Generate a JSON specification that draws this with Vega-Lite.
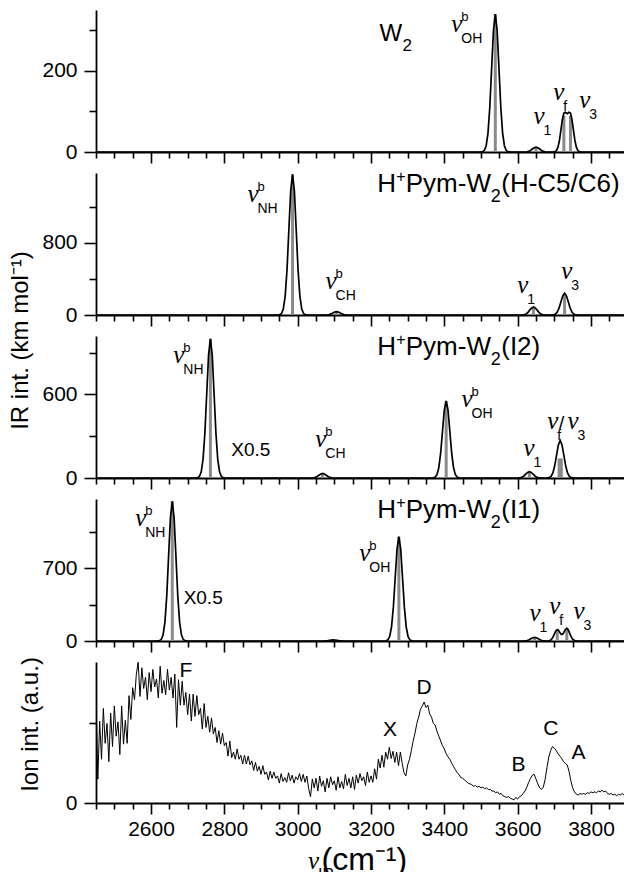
{
"$schema": "https://vega.github.io/schema/vega-lite/v6.json",
"autosize": {"type": "pad"},
"padding": {"left": 8, "top": 10, "right": 0, "bottom": 0},
"background": "white",
"config": {
 "view": {"stroke": null},
 "font": "Liberation Sans",
 "axis": {"grid": false, "domainColor": "black", "domainWidth": 1.8, "tickColor": "black", "tickWidth": 1.6, "labelColor": "black", "labelFont": "Liberation Sans", "labelFontSize": 21, "labelPadding": 4, "titleColor": "black", "titleFont": "Liberation Sans", "titleFontSize": 24, "titleFontWeight": "normal"},
 "style": {
  "nu": {"font": "Liberation Serif", "fontStyle": "italic", "fontSize": 25, "align": "left", "baseline": "alphabetic", "fill": "black"},
  "sub": {"font": "Liberation Sans", "fontSize": 14, "align": "left", "baseline": "alphabetic", "dx": 10, "dy": 11, "fill": "black"},
  "sup": {"font": "Liberation Sans", "fontSize": 13, "align": "left", "baseline": "alphabetic", "dx": 10, "dy": -11, "fill": "black"},
  "lab": {"font": "Liberation Sans", "fontSize": 21, "align": "left", "baseline": "alphabetic", "fill": "black"},
  "xf": {"font": "Liberation Sans", "fontSize": 19, "align": "left", "baseline": "alphabetic", "fill": "black"},
  "ttl": {"font": "Liberation Sans", "fontSize": 26, "align": "left", "baseline": "alphabetic", "fill": "black", "clip": true},
  "ttls": {"font": "Liberation Sans", "fontSize": 18, "align": "left", "baseline": "alphabetic", "fill": "black", "clip": true}
 }
},
"datasets": {
 "c1": [{"w":2450,"i":0},{"w":3497,"i":0},{"w":3504,"i":0.75},{"w":3509,"i":3.8},{"w":3514,"i":14.9},{"w":3519,"i":46},{"w":3524,"i":110.4},{"w":3529,"i":206.2},{"w":3534,"i":300.1},{"w":3539,"i":340},{"w":3544,"i":300.1},{"w":3549,"i":206.2},{"w":3554,"i":110.4},{"w":3559,"i":46},{"w":3564,"i":14.9},{"w":3569,"i":3.8},{"w":3574,"i":0.75},{"w":3581,"i":0},{"w":3618,"i":0},{"w":3625,"i":0.5},{"w":3630,"i":1.6},{"w":3635,"i":3.9},{"w":3640,"i":7.3},{"w":3645,"i":10.6},{"w":3650,"i":12},{"w":3655,"i":10.6},{"w":3660,"i":7.3},{"w":3665,"i":3.9},{"w":3670,"i":1.6},{"w":3675,"i":0.5},{"w":3682,"i":0},{"w":3692,"i":0},{"w":3698,"i":0.2},{"w":3702,"i":1},{"w":3706,"i":3.9},{"w":3710,"i":12},{"w":3714,"i":29},{"w":3718,"i":54.4},{"w":3722,"i":80.6},{"w":3726,"i":96.1},{"w":3730,"i":97.8},{"w":3735,"i":94.5},{"w":3740,"i":97.8},{"w":3744,"i":96.1},{"w":3748,"i":80.6},{"w":3752,"i":54.4},{"w":3756,"i":29},{"w":3760,"i":12},{"w":3764,"i":3.9},{"w":3768,"i":1},{"w":3772,"i":0.2},{"w":3778,"i":0},{"w":3890,"i":0}],
 "s1": [{"w":3539,"i":340},{"w":3650,"i":12},{"w":3726,"i":89},{"w":3744,"i":89}],
 "n1": [{"w":3419,"i":296,"sub":"OH","sup":"b"},{"w":3643,"i":68,"sub":"1","sup":""},{"w":3697,"i":129,"sub":"f","sup":""},{"w":3768,"i":109,"sub":"3","sup":""}],
 "t1": [{"w":3223,"i":274}],
 "c2": [{"w":2450,"i":0},{"w":2944,"i":0},{"w":2951,"i":3.4},{"w":2956,"i":17.3},{"w":2961,"i":68.5},{"w":2966,"i":211},{"w":2971,"i":506.5},{"w":2976,"i":946},{"w":2981,"i":1377},{"w":2986,"i":1560},{"w":2991,"i":1377},{"w":2996,"i":946},{"w":3001,"i":506.5},{"w":3006,"i":211},{"w":3011,"i":68.5},{"w":3016,"i":17.3},{"w":3021,"i":3.4},{"w":3028,"i":0},{"w":3074,"i":0},{"w":3081,"i":1.7},{"w":3086,"i":5.1},{"w":3091,"i":12.3},{"w":3096,"i":23},{"w":3101,"i":33.5},{"w":3106,"i":38},{"w":3111,"i":33.5},{"w":3116,"i":23},{"w":3121,"i":12.3},{"w":3126,"i":5.1},{"w":3131,"i":1.7},{"w":3138,"i":0},{"w":3606,"i":0},{"w":3613,"i":1},{"w":3618,"i":3.9},{"w":3623,"i":12},{"w":3628,"i":28.9},{"w":3633,"i":54},{"w":3638,"i":78.5},{"w":3643,"i":89},{"w":3648,"i":78.5},{"w":3653,"i":54},{"w":3658,"i":28.9},{"w":3663,"i":12},{"w":3668,"i":3.9},{"w":3673,"i":1},{"w":3680,"i":0},{"w":3686,"i":0},{"w":3693,"i":0.5},{"w":3698,"i":2.7},{"w":3703,"i":10.6},{"w":3708,"i":32.6},{"w":3713,"i":78.3},{"w":3718,"i":146.2},{"w":3723,"i":212.7},{"w":3728,"i":241},{"w":3733,"i":212.7},{"w":3738,"i":146.2},{"w":3743,"i":78.3},{"w":3748,"i":32.6},{"w":3753,"i":10.6},{"w":3758,"i":2.7},{"w":3763,"i":0.5},{"w":3770,"i":0},{"w":3890,"i":0}],
 "s2": [{"w":2986,"i":1560},{"w":3106,"i":38},{"w":3643,"i":89},{"w":3728,"i":241}],
 "n2": [{"w":2863,"i":1252,"sub":"NH","sup":"b"},{"w":3076,"i":286,"sub":"CH","sup":"b"},{"w":3599,"i":249,"sub":"1","sup":""},{"w":3719,"i":397,"sub":"3","sup":""}],
 "t2": [{"w":3217,"i":1364,"t":"(H-C5/C6)"}],
 "c3": [{"w":2450,"i":0},{"w":2720,"i":0},{"w":2727,"i":2.2},{"w":2732,"i":11.1},{"w":2737,"i":43.9},{"w":2742,"i":135.3},{"w":2747,"i":324.7},{"w":2752,"i":606.5},{"w":2757,"i":882.5},{"w":2762,"i":1000},{"w":2767,"i":882.5},{"w":2772,"i":606.5},{"w":2777,"i":324.7},{"w":2782,"i":135.3},{"w":2787,"i":43.9},{"w":2792,"i":11.1},{"w":2797,"i":2.2},{"w":2804,"i":0},{"w":3036,"i":0},{"w":3043,"i":1.4},{"w":3048,"i":4.5},{"w":3053,"i":10.7},{"w":3058,"i":20},{"w":3063,"i":29.1},{"w":3068,"i":33},{"w":3073,"i":29.1},{"w":3078,"i":20},{"w":3083,"i":10.7},{"w":3088,"i":4.5},{"w":3093,"i":1.4},{"w":3100,"i":0},{"w":3363,"i":0},{"w":3370,"i":1.2},{"w":3375,"i":6.1},{"w":3380,"i":24.3},{"w":3385,"i":75},{"w":3390,"i":179.9},{"w":3395,"i":336},{"w":3400,"i":488.9},{"w":3405,"i":554},{"w":3410,"i":488.9},{"w":3415,"i":336},{"w":3420,"i":179.9},{"w":3425,"i":75},{"w":3430,"i":24.3},{"w":3435,"i":6.1},{"w":3440,"i":1.2},{"w":3447,"i":0},{"w":3595,"i":0},{"w":3602,"i":0.5},{"w":3607,"i":2},{"w":3612,"i":6.1},{"w":3617,"i":14.6},{"w":3622,"i":27.3},{"w":3627,"i":39.7},{"w":3632,"i":45},{"w":3637,"i":39.7},{"w":3642,"i":27.3},{"w":3647,"i":14.6},{"w":3652,"i":6.1},{"w":3657,"i":2},{"w":3662,"i":0.5},{"w":3669,"i":0},{"w":3674,"i":0},{"w":3681,"i":0.6},{"w":3686,"i":3},{"w":3691,"i":11.8},{"w":3696,"i":36.4},{"w":3701,"i":87.3},{"w":3706,"i":163.1},{"w":3711,"i":237.4},{"w":3716,"i":269},{"w":3721,"i":237.4},{"w":3726,"i":163.1},{"w":3731,"i":87.3},{"w":3736,"i":36.4},{"w":3741,"i":11.8},{"w":3746,"i":3},{"w":3751,"i":0.6},{"w":3758,"i":0},{"w":3890,"i":0}],
 "s3": [{"w":2762,"i":1000},{"w":3068,"i":33},{"w":3405,"i":554},{"w":3632,"i":45},{"w":3713,"i":140},{"w":3719,"i":140}],
 "n3": [{"w":2661,"i":829,"sub":"NH","sup":"b"},{"w":3048,"i":221,"sub":"CH","sup":"b"},{"w":3447,"i":507,"sub":"OH","sup":"b"},{"w":3616,"i":161,"sub":"1","sup":""},{"w":3681,"i":352,"sub":"f","sup":""},{"w":3736,"i":352,"sub":"3","sup":""}],
 "l3": [{"w":2819,"i":161,"t":"X0.5"},{"w":3713,"i":352,"t":"/"}],
 "t3": [{"w":3217,"i":881,"t":"(I2)"}],
 "c4": [{"w":2450,"i":0},{"w":2616,"i":0},{"w":2623,"i":3},{"w":2628,"i":15},{"w":2633,"i":59.2},{"w":2638,"i":182.4},{"w":2643,"i":437.7},{"w":2648,"i":817.6},{"w":2653,"i":1189.6},{"w":2658,"i":1348},{"w":2663,"i":1189.6},{"w":2668,"i":817.6},{"w":2673,"i":437.7},{"w":2678,"i":182.4},{"w":2683,"i":59.2},{"w":2688,"i":15},{"w":2693,"i":3},{"w":2700,"i":0},{"w":3065,"i":0},{"w":3072,"i":0.4},{"w":3077,"i":1.4},{"w":3082,"i":3.2},{"w":3087,"i":6.1},{"w":3092,"i":8.8},{"w":3097,"i":10},{"w":3102,"i":8.8},{"w":3107,"i":6.1},{"w":3112,"i":3.2},{"w":3117,"i":1.4},{"w":3122,"i":0.4},{"w":3129,"i":0},{"w":3234,"i":0},{"w":3241,"i":2.2},{"w":3246,"i":11.2},{"w":3251,"i":44.2},{"w":3256,"i":136.1},{"w":3261,"i":326.7},{"w":3266,"i":610.1},{"w":3271,"i":887.8},{"w":3276,"i":1006},{"w":3281,"i":887.8},{"w":3286,"i":610.1},{"w":3291,"i":326.7},{"w":3296,"i":136.1},{"w":3301,"i":44.2},{"w":3306,"i":11.2},{"w":3311,"i":2.2},{"w":3318,"i":0},{"w":3609,"i":0},{"w":3616,"i":0.4},{"w":3621,"i":1.6},{"w":3626,"i":4.9},{"w":3631,"i":11.7},{"w":3636,"i":21.8},{"w":3641,"i":31.8},{"w":3646,"i":36},{"w":3651,"i":31.8},{"w":3656,"i":21.8},{"w":3661,"i":11.7},{"w":3666,"i":4.9},{"w":3671,"i":1.6},{"w":3676,"i":0.4},{"w":3680,"i":0},{"w":3684,"i":1.2},{"w":3688,"i":4.8},{"w":3692,"i":14.9},{"w":3696,"i":35.7},{"w":3700,"i":66.7},{"w":3704,"i":97.1},{"w":3708,"i":110.6},{"w":3712,"i":99.9},{"w":3716,"i":76.4},{"w":3718,"i":66.9},{"w":3721,"i":62},{"w":3724,"i":70.8},{"w":3726,"i":82.8},{"w":3730,"i":110.2},{"w":3734,"i":122.6},{"w":3738,"i":107.8},{"w":3742,"i":74},{"w":3746,"i":39.6},{"w":3750,"i":16.5},{"w":3754,"i":5.4},{"w":3758,"i":1.4},{"w":3762,"i":0.3},{"w":3768,"i":0},{"w":3890,"i":0}],
 "s4": [{"w":2658,"i":1348},{"w":3097,"i":10},{"w":3276,"i":1006},{"w":3646,"i":36},{"w":3708,"i":110},{"w":3734,"i":122}],
 "n4": [{"w":2557,"i":1112,"sub":"NH","sup":"b"},{"w":3168,"i":774,"sub":"OH","sup":"b"},{"w":3632,"i":193,"sub":"1","sup":""},{"w":3686,"i":258,"sub":"f","sup":""},{"w":3752,"i":210,"sub":"3","sup":""}],
 "l4": [{"w":2689,"i":355,"t":"X0.5"}],
 "t4": [{"w":3217,"i":1184,"t":"(I1)"}],
 "c5": [{"w":2450,"i":1.35},{"w":2455,"i":0.3},{"w":2460,"i":1.03},{"w":2465,"i":0.55},{"w":2470,"i":1.19},{"w":2475,"i":0.75},{"w":2480,"i":1},{"w":2485,"i":0.52},{"w":2490,"i":1.13},{"w":2495,"i":0.71},{"w":2500,"i":1.22},{"w":2505,"i":0.84},{"w":2510,"i":1.02},{"w":2515,"i":0.61},{"w":2520,"i":1.22},{"w":2525,"i":0.74},{"w":2530,"i":1.04},{"w":2535,"i":0.75},{"w":2540,"i":1.35},{"w":2545,"i":1.05},{"w":2550,"i":1.45},{"w":2555,"i":1.3},{"w":2560,"i":1.62},{"w":2565,"i":1.77},{"w":2570,"i":1.34},{"w":2575,"i":1.7},{"w":2580,"i":1.44},{"w":2585,"i":1.58},{"w":2590,"i":1.3},{"w":2595,"i":1.64},{"w":2600,"i":1.4},{"w":2605,"i":1.68},{"w":2610,"i":1.46},{"w":2615,"i":1.56},{"w":2620,"i":1.32},{"w":2625,"i":1.72},{"w":2630,"i":1.38},{"w":2635,"i":1.54},{"w":2640,"i":1.36},{"w":2645,"i":1.68},{"w":2650,"i":1.42},{"w":2655,"i":1.58},{"w":2660,"i":1.32},{"w":2665,"i":1.62},{"w":2670,"i":0.95},{"w":2675,"i":1.55},{"w":2680,"i":1.23},{"w":2685,"i":1.53},{"w":2690,"i":1.23},{"w":2695,"i":1.39},{"w":2700,"i":1.11},{"w":2705,"i":1.37},{"w":2710,"i":1.03},{"w":2715,"i":1.37},{"w":2720,"i":1.09},{"w":2725,"i":1.35},{"w":2730,"i":1.11},{"w":2735,"i":1.19},{"w":2740,"i":0.93},{"w":2745,"i":1.25},{"w":2750,"i":0.95},{"w":2755,"i":1.09},{"w":2760,"i":0.89},{"w":2765,"i":1.07},{"w":2770,"i":0.87},{"w":2775,"i":0.95},{"w":2780,"i":0.76},{"w":2785,"i":0.91},{"w":2790,"i":0.74},{"w":2795,"i":0.88},{"w":2800,"i":0.72},{"w":2805,"i":0.76},{"w":2810,"i":0.59},{"w":2815,"i":0.78},{"w":2820,"i":0.57},{"w":2825,"i":0.64},{"w":2830,"i":0.55},{"w":2835,"i":0.68},{"w":2840,"i":0.55},{"w":2845,"i":0.6},{"w":2850,"i":0.49},{"w":2855,"i":0.6},{"w":2860,"i":0.49},{"w":2865,"i":0.59},{"w":2870,"i":0.48},{"w":2875,"i":0.53},{"w":2880,"i":0.41},{"w":2885,"i":0.51},{"w":2890,"i":0.4},{"w":2895,"i":0.46},{"w":2900,"i":0.36},{"w":2905,"i":0.47},{"w":2910,"i":0.36},{"w":2915,"i":0.39},{"w":2920,"i":0.29},{"w":2925,"i":0.4},{"w":2930,"i":0.31},{"w":2935,"i":0.39},{"w":2940,"i":0.31},{"w":2945,"i":0.34},{"w":2950,"i":0.25},{"w":2955,"i":0.37},{"w":2960,"i":0.27},{"w":2965,"i":0.32},{"w":2970,"i":0.26},{"w":2975,"i":0.38},{"w":2980,"i":0.28},{"w":2985,"i":0.35},{"w":2990,"i":0.25},{"w":2995,"i":0.33},{"w":3000,"i":0.29},{"w":3005,"i":0.37},{"w":3010,"i":0.27},{"w":3015,"i":0.36},{"w":3020,"i":0.26},{"w":3025,"i":0.34},{"w":3030,"i":0.18},{"w":3035,"i":0.08},{"w":3040,"i":0.3},{"w":3045,"i":0.19},{"w":3050,"i":0.31},{"w":3055,"i":0.15},{"w":3060,"i":0.34},{"w":3065,"i":0.21},{"w":3070,"i":0.28},{"w":3075,"i":0.14},{"w":3080,"i":0.31},{"w":3085,"i":0.19},{"w":3090,"i":0.33},{"w":3095,"i":0.23},{"w":3100,"i":0.28},{"w":3105,"i":0.16},{"w":3110,"i":0.33},{"w":3115,"i":0.19},{"w":3120,"i":0.27},{"w":3125,"i":0.18},{"w":3130,"i":0.36},{"w":3135,"i":0.22},{"w":3140,"i":0.31},{"w":3145,"i":0.19},{"w":3150,"i":0.33},{"w":3155,"i":0.17},{"w":3160,"i":0.35},{"w":3165,"i":0.25},{"w":3170,"i":0.37},{"w":3175,"i":0.28},{"w":3180,"i":0.33},{"w":3185,"i":0.22},{"w":3190,"i":0.39},{"w":3195,"i":0.26},{"w":3200,"i":0.34},{"w":3205,"i":0.26},{"w":3210,"i":0.43},{"w":3215,"i":0.3},{"w":3220,"i":0.55},{"w":3225,"i":0.44},{"w":3230,"i":0.6},{"w":3235,"i":0.45},{"w":3240,"i":0.64},{"w":3245,"i":0.55},{"w":3250,"i":0.7},{"w":3255,"i":0.56},{"w":3260,"i":0.65},{"w":3265,"i":0.51},{"w":3270,"i":0.64},{"w":3275,"i":0.47},{"w":3280,"i":0.64},{"w":3285,"i":0.5},{"w":3290,"i":0.38},{"w":3295,"i":0.34},{"w":3300,"i":0.48},{"w":3305,"i":0.55},{"w":3310,"i":0.66},{"w":3315,"i":0.78},{"w":3320,"i":0.88},{"w":3325,"i":1},{"w":3330,"i":1.08},{"w":3335,"i":1.18},{"w":3340,"i":1.22},{"w":3345,"i":1.27},{"w":3350,"i":1.2},{"w":3355,"i":1.23},{"w":3360,"i":1.12},{"w":3365,"i":1.08},{"w":3370,"i":1},{"w":3375,"i":0.98},{"w":3380,"i":0.9},{"w":3385,"i":0.84},{"w":3390,"i":0.78},{"w":3395,"i":0.72},{"w":3400,"i":0.68},{"w":3405,"i":0.62},{"w":3410,"i":0.58},{"w":3415,"i":0.55},{"w":3420,"i":0.5},{"w":3425,"i":0.46},{"w":3430,"i":0.42},{"w":3435,"i":0.38},{"w":3440,"i":0.36},{"w":3445,"i":0.32},{"w":3450,"i":0.31},{"w":3455,"i":0.29},{"w":3460,"i":0.27},{"w":3465,"i":0.25},{"w":3470,"i":0.24},{"w":3475,"i":0.23},{"w":3480,"i":0.21},{"w":3485,"i":0.22},{"w":3490,"i":0.2},{"w":3495,"i":0.21},{"w":3500,"i":0.19},{"w":3505,"i":0.2},{"w":3510,"i":0.18},{"w":3515,"i":0.19},{"w":3520,"i":0.17},{"w":3525,"i":0.17},{"w":3530,"i":0.15},{"w":3535,"i":0.15},{"w":3540,"i":0.13},{"w":3545,"i":0.14},{"w":3550,"i":0.11},{"w":3555,"i":0.12},{"w":3560,"i":0.09},{"w":3565,"i":0.08},{"w":3570,"i":0.07},{"w":3575,"i":0.08},{"w":3580,"i":0.06},{"w":3585,"i":0.05},{"w":3590,"i":0.04},{"w":3595,"i":0.07},{"w":3600,"i":0.05},{"w":3605,"i":0.08},{"w":3610,"i":0.09},{"w":3615,"i":0.12},{"w":3620,"i":0.15},{"w":3625,"i":0.2},{"w":3630,"i":0.26},{"w":3635,"i":0.31},{"w":3640,"i":0.35},{"w":3645,"i":0.36},{"w":3650,"i":0.3},{"w":3655,"i":0.24},{"w":3660,"i":0.19},{"w":3665,"i":0.17},{"w":3670,"i":0.2},{"w":3675,"i":0.3},{"w":3680,"i":0.45},{"w":3685,"i":0.58},{"w":3690,"i":0.66},{"w":3695,"i":0.71},{"w":3700,"i":0.69},{"w":3705,"i":0.66},{"w":3710,"i":0.62},{"w":3715,"i":0.59},{"w":3720,"i":0.56},{"w":3725,"i":0.52},{"w":3730,"i":0.5},{"w":3735,"i":0.48},{"w":3740,"i":0.4},{"w":3745,"i":0.28},{"w":3750,"i":0.19},{"w":3755,"i":0.14},{"w":3760,"i":0.11},{"w":3765,"i":0.1},{"w":3770,"i":0.12},{"w":3775,"i":0.11},{"w":3780,"i":0.12},{"w":3785,"i":0.11},{"w":3790,"i":0.13},{"w":3795,"i":0.12},{"w":3800,"i":0.14},{"w":3805,"i":0.13},{"w":3810,"i":0.14},{"w":3815,"i":0.13},{"w":3820,"i":0.15},{"w":3825,"i":0.14},{"w":3830,"i":0.16},{"w":3835,"i":0.14},{"w":3840,"i":0.15},{"w":3845,"i":0.12},{"w":3850,"i":0.11},{"w":3855,"i":0.12},{"w":3860,"i":0.1},{"w":3865,"i":0.11},{"w":3870,"i":0.09},{"w":3875,"i":0.11},{"w":3880,"i":0.1},{"w":3885,"i":0.12},{"w":3890,"i":0.1}],
 "l5": [{"w":2678,"i":1.58,"t":"F"},{"w":3324,"i":1.37,"t":"D"},{"w":3233,"i":0.84,"t":"X"},{"w":3583,"i":0.4,"t":"B"},{"w":3670,"i":0.86,"t":"C"},{"w":3747,"i":0.55,"t":"A"}],
 "n5": [{"w":3028,"i":-0.83,"sub":"IR","sup":""}]
},
"spacing": 21,
"bounds": "flush",
"vconcat": [
 {
  "width": 528, "height": 142,
  "encoding": {
   "x": {"field": "w", "type": "quantitative", "scale": {"domain": [2450, 3890], "nice": false, "zero": false}, "axis": {"values": [2450,2500,2550,2600,2650,2700,2750,2800,2850,2900,2950,3000,3050,3100,3150,3200,3250,3300,3350,3400,3450,3500,3550,3600,3650,3700,3750,3800,3850], "labels": false, "title": null, "tickSize": {"condition": {"test": "datum.value % 200 === 0", "value": 11}, "value": 6}}},
   "y": {"field": "i", "type": "quantitative", "scale": {"domain": [0, 350], "nice": false}, "axis": {"values": [0,100,200,300], "labelExpr": "datum.value % 200 === 0 ? datum.label : ''", "tickSize": {"condition": {"test": "datum.value % 200 === 0", "value": 12}, "value": 7}, "labelPadding": 7, "title": null}}
  },
  "layer": [
   {"data": {"name": "s1"}, "mark": {"type": "rule", "color": "#8a8a8a", "strokeWidth": 3}, "encoding": {"y2": {"datum": 0}}},
   {"data": {"name": "c1"}, "mark": {"type": "line", "color": "black", "strokeWidth": 1.7, "clip": true}, "encoding": {}},
   {"data": {"name": "n1"}, "mark": {"type": "text", "style": "nu", "text": "ν"}},
   {"data": {"name": "n1"}, "mark": {"type": "text", "style": "sub"}, "encoding": {"text": {"field": "sub"}}},
   {"data": {"name": "n1"}, "mark": {"type": "text", "style": "sup"}, "encoding": {"text": {"field": "sup"}}},
   {"data": {"name": "t1"}, "mark": {"type": "text", "style": "ttl", "text": "W", "fontSize": 24}},
   {"data": {"name": "t1"}, "mark": {"type": "text", "style": "ttls", "text": "2", "dx": 23, "dy": 10, "fontSize": 17}}
  ]
 },
 {
  "width": 528, "height": 142,
  "encoding": {
   "x": {"field": "w", "type": "quantitative", "scale": {"domain": [2450, 3890], "nice": false, "zero": false}, "axis": {"values": [2450,2500,2550,2600,2650,2700,2750,2800,2850,2900,2950,3000,3050,3100,3150,3200,3250,3300,3350,3400,3450,3500,3550,3600,3650,3700,3750,3800,3850], "labels": false, "title": null, "tickSize": {"condition": {"test": "datum.value % 200 === 0", "value": 11}, "value": 6}}},
   "y": {"field": "i", "type": "quantitative", "scale": {"domain": [0, 1575], "nice": false}, "axis": {"values": [0,400,800,1200], "labelExpr": "datum.value % 800 === 0 ? datum.label : ''", "tickSize": {"condition": {"test": "datum.value % 800 === 0", "value": 12}, "value": 7}, "labelPadding": 7, "title": "IR int. (km mol⁻¹)", "titleX": -69, "titleY": 167, "titleAngle": 270, "titleBaseline": "alphabetic", "titleAlign": "center"}}
  },
  "layer": [
   {"data": {"name": "s2"}, "mark": {"type": "rule", "color": "#8a8a8a", "strokeWidth": 3}, "encoding": {"y2": {"datum": 0}}},
   {"data": {"name": "c2"}, "mark": {"type": "line", "color": "black", "strokeWidth": 1.7, "clip": true}, "encoding": {}},
   {"data": {"name": "n2"}, "mark": {"type": "text", "style": "nu", "text": "ν"}},
   {"data": {"name": "n2"}, "mark": {"type": "text", "style": "sub"}, "encoding": {"text": {"field": "sub"}}},
   {"data": {"name": "n2"}, "mark": {"type": "text", "style": "sup"}, "encoding": {"text": {"field": "sup"}}},
   {"data": {"name": "t2"}, "mark": {"type": "text", "style": "ttl", "text": "H"}},
   {"data": {"name": "t2"}, "mark": {"type": "text", "style": "ttls", "text": "+", "dx": 19, "dy": -10, "fontSize": 16}},
   {"data": {"name": "t2"}, "mark": {"type": "text", "style": "ttl", "text": "Pym-W", "dx": 28.5}},
   {"data": {"name": "t2"}, "mark": {"type": "text", "style": "ttls", "text": "2", "dx": 113.5, "dy": 10}},
   {"data": {"name": "t2"}, "mark": {"type": "text", "style": "ttl", "dx": 124}, "encoding": {"text": {"field": "t"}}}
  ]
 },
 {
  "width": 528, "height": 142,
  "encoding": {
   "x": {"field": "w", "type": "quantitative", "scale": {"domain": [2450, 3890], "nice": false, "zero": false}, "axis": {"values": [2450,2500,2550,2600,2650,2700,2750,2800,2850,2900,2950,3000,3050,3100,3150,3200,3250,3300,3350,3400,3450,3500,3550,3600,3650,3700,3750,3800,3850], "labels": false, "title": null, "tickSize": {"condition": {"test": "datum.value % 200 === 0", "value": 11}, "value": 6}}},
   "y": {"field": "i", "type": "quantitative", "scale": {"domain": [0, 1020], "nice": false}, "axis": {"values": [0,300,600,900], "labelExpr": "datum.value % 600 === 0 ? datum.label : ''", "tickSize": {"condition": {"test": "datum.value % 600 === 0", "value": 12}, "value": 7}, "labelPadding": 7, "title": null}}
  },
  "layer": [
   {"data": {"name": "s3"}, "mark": {"type": "rule", "color": "#8a8a8a", "strokeWidth": 3}, "encoding": {"y2": {"datum": 0}}},
   {"data": {"name": "c3"}, "mark": {"type": "line", "color": "black", "strokeWidth": 1.7, "clip": true}, "encoding": {}},
   {"data": {"name": "n3"}, "mark": {"type": "text", "style": "nu", "text": "ν"}},
   {"data": {"name": "n3"}, "mark": {"type": "text", "style": "sub"}, "encoding": {"text": {"field": "sub"}}},
   {"data": {"name": "n3"}, "mark": {"type": "text", "style": "sup"}, "encoding": {"text": {"field": "sup"}}},
   {"data": {"name": "l3"}, "mark": {"type": "text", "style": "xf"}, "encoding": {"text": {"field": "t"}}},
   {"data": {"name": "t3"}, "mark": {"type": "text", "style": "ttl", "text": "H"}},
   {"data": {"name": "t3"}, "mark": {"type": "text", "style": "ttls", "text": "+", "dx": 19, "dy": -10, "fontSize": 16}},
   {"data": {"name": "t3"}, "mark": {"type": "text", "style": "ttl", "text": "Pym-W", "dx": 28.5}},
   {"data": {"name": "t3"}, "mark": {"type": "text", "style": "ttls", "text": "2", "dx": 113.5, "dy": 10}},
   {"data": {"name": "t3"}, "mark": {"type": "text", "style": "ttl", "dx": 124}, "encoding": {"text": {"field": "t"}}}
  ]
 },
 {
  "width": 528, "height": 142,
  "encoding": {
   "x": {"field": "w", "type": "quantitative", "scale": {"domain": [2450, 3890], "nice": false, "zero": false}, "axis": {"values": [2450,2500,2550,2600,2650,2700,2750,2800,2850,2900,2950,3000,3050,3100,3150,3200,3250,3300,3350,3400,3450,3500,3550,3600,3650,3700,3750,3800,3850], "labels": false, "title": null, "tickSize": {"condition": {"test": "datum.value % 200 === 0", "value": 11}, "value": 6}}},
   "y": {"field": "i", "type": "quantitative", "scale": {"domain": [0, 1370], "nice": false}, "axis": {"values": [0,350,700,1050], "labelExpr": "datum.value % 700 === 0 ? datum.label : ''", "tickSize": {"condition": {"test": "datum.value % 700 === 0", "value": 12}, "value": 7}, "labelPadding": 7, "title": null}}
  },
  "layer": [
   {"data": {"name": "s4"}, "mark": {"type": "rule", "color": "#8a8a8a", "strokeWidth": 3}, "encoding": {"y2": {"datum": 0}}},
   {"data": {"name": "c4"}, "mark": {"type": "line", "color": "black", "strokeWidth": 1.7, "clip": true}, "encoding": {}},
   {"data": {"name": "n4"}, "mark": {"type": "text", "style": "nu", "text": "ν"}},
   {"data": {"name": "n4"}, "mark": {"type": "text", "style": "sub"}, "encoding": {"text": {"field": "sub"}}},
   {"data": {"name": "n4"}, "mark": {"type": "text", "style": "sup"}, "encoding": {"text": {"field": "sup"}}},
   {"data": {"name": "l4"}, "mark": {"type": "text", "style": "xf"}, "encoding": {"text": {"field": "t"}}},
   {"data": {"name": "t4"}, "mark": {"type": "text", "style": "ttl", "text": "H"}},
   {"data": {"name": "t4"}, "mark": {"type": "text", "style": "ttls", "text": "+", "dx": 19, "dy": -10, "fontSize": 16}},
   {"data": {"name": "t4"}, "mark": {"type": "text", "style": "ttl", "text": "Pym-W", "dx": 28.5}},
   {"data": {"name": "t4"}, "mark": {"type": "text", "style": "ttls", "text": "2", "dx": 113.5, "dy": 10}},
   {"data": {"name": "t4"}, "mark": {"type": "text", "style": "ttl", "dx": 124}, "encoding": {"text": {"field": "t"}}}
  ]
 },
 {
  "width": 528, "height": 141,
  "encoding": {
   "x": {"field": "w", "type": "quantitative", "scale": {"domain": [2450, 3890], "nice": false, "zero": false}, "axis": {"values": [2450,2500,2550,2600,2650,2700,2750,2800,2850,2900,2950,3000,3050,3100,3150,3200,3250,3300,3350,3400,3450,3500,3550,3600,3650,3700,3750,3800,3850], "format": "d", "labelExpr": "datum.value % 200 === 0 ? datum.label : ''", "labelPadding": 4, "tickSize": {"condition": {"test": "datum.value % 200 === 0", "value": 11}, "value": 6}, "title": "(cm⁻¹)", "titleFontSize": 32, "titleX": 225, "titleY": 66, "titleAlign": "left", "titleBaseline": "alphabetic"}},
   "y": {"field": "i", "type": "quantitative", "scale": {"domain": [0, 1.773], "nice": false}, "axis": {"values": [0,1], "labelExpr": "datum.value === 0 ? '0' : ''", "tickSize": {"condition": {"test": "datum.value === 0", "value": 12}, "value": 7}, "labelPadding": 7, "title": "Ion int. (a.u.)", "titleX": -59, "titleY": 62, "titleAngle": 270, "titleBaseline": "alphabetic", "titleAlign": "center"}}
  },
  "layer": [
   {"data": {"name": "c5"}, "mark": {"type": "line", "color": "black", "strokeWidth": 1, "clip": true}, "encoding": {}},
   {"data": {"name": "l5"}, "mark": {"type": "text", "style": "lab"}, "encoding": {"text": {"field": "t"}}},
   {"data": {"name": "n5"}, "mark": {"type": "text", "style": "nu", "text": "ν"}},
   {"data": {"name": "n5"}, "mark": {"type": "text", "style": "sub", "fontSize": 16}, "encoding": {"text": {"field": "sub"}}}
  ]
 }
]
}
